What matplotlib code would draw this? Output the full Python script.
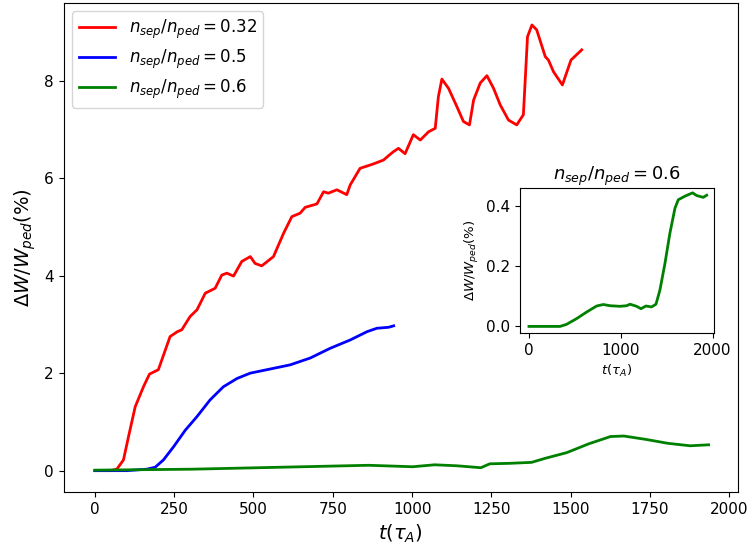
import numpy as np
import matplotlib.pyplot as plt

# energy loss curves for three separatrix densities
t_032 = [0, 48, 69, 90, 106, 127, 153, 172, 200, 237, 260, 274, 300, 322, 348, 379, 400, 416, 437,
         463, 490, 505, 526, 563, 595, 621, 647, 663, 700, 721, 736, 763, 794, 805, 836, 878, 910,
         926, 941, 957, 978, 1004, 1026, 1052, 1073, 1083, 1094, 1115, 1141, 1162, 1181, 1194, 1215,
         1236, 1257, 1278, 1304, 1330, 1351, 1364, 1378, 1393, 1420, 1430, 1446, 1474, 1501, 1535]
w_032 = [0.0, 0.0, 0.03, 0.22, 0.70, 1.31, 1.72, 1.98, 2.07, 2.75, 2.85, 2.89, 3.16, 3.30, 3.64, 3.74,
         4.01, 4.05, 3.99, 4.29, 4.39, 4.25, 4.20, 4.39, 4.87, 5.21, 5.28, 5.40, 5.47, 5.72, 5.69, 5.76,
         5.66, 5.86, 6.20, 6.29, 6.37, 6.46, 6.54, 6.61, 6.50, 6.89, 6.78, 6.95, 7.02, 7.67, 8.03, 7.84,
         7.47, 7.16, 7.09, 7.60, 7.95, 8.10, 7.84, 7.50, 7.19, 7.09, 7.30, 8.90, 9.14, 9.04, 8.49, 8.42,
         8.18, 7.91, 8.42, 8.63]

t_05 = [0, 100, 164, 190, 216, 248, 285, 322, 363, 405, 448, 490, 542, 616, 679, 742, 805, 858, 889,
        926, 942]
w_05 = [0.0, 0.0, 0.03, 0.07, 0.22, 0.49, 0.83, 1.11, 1.45, 1.72, 1.89, 2.00, 2.07, 2.17, 2.31, 2.51,
        2.68, 2.85, 2.92, 2.94, 2.97]

t_06 = [0, 307, 585, 793, 863, 1002, 1071, 1141, 1217, 1245, 1307, 1377, 1418, 1488, 1557, 1626,
        1668, 1738, 1807, 1877, 1935]
w_06 = [0.01, 0.03, 0.07, 0.10, 0.11, 0.08, 0.12, 0.10, 0.06, 0.14, 0.15, 0.17, 0.25, 0.37, 0.55,
        0.70, 0.71, 0.64, 0.56, 0.51, 0.53]

# zoomed-in run for n_sep/n_ped = 0.6
t_in = [0, 338, 410, 519, 628, 737, 809, 882, 991, 1064, 1100, 1172, 1220, 1274, 1336, 1383, 1426,
        1481, 1535, 1590, 1626, 1699, 1782, 1826, 1898, 1935]
w_in = [0.0, 0.0, 0.007, 0.026, 0.048, 0.068, 0.073, 0.069, 0.067, 0.069, 0.074, 0.067, 0.059, 0.068,
        0.065, 0.074, 0.121, 0.210, 0.311, 0.394, 0.422, 0.434, 0.445, 0.436, 0.430, 0.437]

fig = plt.figure(figsize=(7.5, 5.5), dpi=100)
ax = fig.add_axes([0.0847, 0.105, 0.899, 0.8895])

ax.plot(t_032, w_032, color='red', lw=2, label=r'$n_{sep}/n_{ped}=0.32$')
ax.plot(t_05, w_05, color='blue', lw=2, label=r'$n_{sep}/n_{ped}=0.5$')
ax.plot(t_06, w_06, color='green', lw=2, label=r'$n_{sep}/n_{ped}=0.6$')
ax.set_xlim(-99, 2027)
ax.set_ylim(-0.443, 9.59)
ax.set_xlabel(r'$t(\tau_A)$', fontsize=14)
ax.set_ylabel(r'$\Delta W/W_{ped}(\%)$', fontsize=14)
ax.tick_params(labelsize=11)
ax.legend(loc='upper left', fontsize=12, labelspacing=0.4, handlelength=2.2)

# inset
axin = fig.add_axes([0.6933, 0.3945, 0.2587, 0.2636])
axin.plot(t_in, w_in, color='green', lw=2)
axin.set_xlim(-98, 2015)
axin.set_ylim(-0.022, 0.461)
axin.set_xticks([0, 1000, 2000])
axin.set_yticks([0.0, 0.2, 0.4])
axin.set_title(r'$n_{sep}/n_{ped}=0.6$', fontsize=13)
axin.set_xlabel(r'$t(\tau_A)$', fontsize=9.5)
axin.set_ylabel(r'$\Delta W/W_{ped}(\%)$', fontsize=9.5)
axin.tick_params(labelsize=11)

fig.savefig('out.png', dpi=100)
